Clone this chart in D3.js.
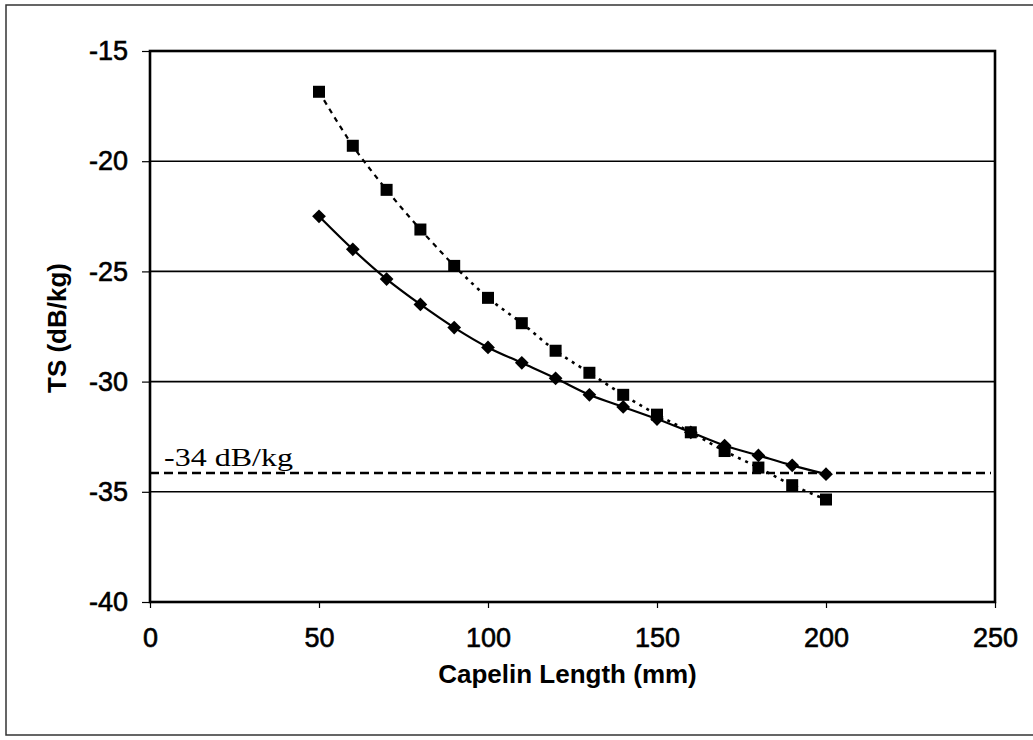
<!DOCTYPE html>
<html>
<head>
<meta charset="utf-8">
<script src="https://cdn.jsdelivr.net/npm/d3@7"></script>
<style>
  body { margin: 0; background: #fff; }
  svg { display: block; }
</style>
</head>
<body>
<div id="chart"></div>
<script>
// data
const lengths = [50, 60, 70, 80, 90, 100, 110, 120, 130, 140, 150, 160, 170, 180, 190, 200];
const tsDiamond = [-22.5, -24.0, -25.35, -26.5, -27.55, -28.45, -29.15, -29.85, -30.6, -31.15, -31.7, -32.3, -32.9, -33.35, -33.8, -34.2];
const tsSquare = [-16.85, -19.3, -21.3, -23.1, -24.75, -26.2, -27.35, -28.6, -29.6, -30.6, -31.5, -32.3, -33.15, -33.9, -34.7, -35.35];
const thresholdTS = -34.15;
const thresholdLabel = "-34 dB/kg";
const xTicks = [0, 50, 100, 150, 200, 250];
const yTicks = [-40, -35, -30, -25, -20, -15];

const MARGIN = { TOP: 51, BOTTOM: 138, LEFT: 150, RIGHT: 38 };
const WIDTH = 1033 - MARGIN.LEFT - MARGIN.RIGHT;
const HEIGHT = 740 - MARGIN.TOP - MARGIN.BOTTOM;

const svg = d3.select("#chart")
  .append("svg")
    .attr("width", 1033)
    .attr("height", 740);

// scanned page frame
svg.append("path")
  .attr("d", "M1033,5 L6,5 L6,735 L1033,735")
  .attr("fill", "none")
  .attr("stroke", "#333")
  .attr("stroke-width", 1.5);

const g = svg.append("g")
  .attr("transform", `translate(${MARGIN.LEFT}, ${MARGIN.TOP})`);

const x = d3.scaleLinear().domain([0, 250]).range([0, WIDTH]);
const y = d3.scaleLinear().domain([-40, -15]).range([HEIGHT, 0]);

// horizontal gridlines
g.selectAll(".grid")
  .data(yTicks.filter(d => d > -40 && d < -15))
  .enter().append("line")
    .attr("x1", 0)
    .attr("x2", WIDTH)
    .attr("y1", d => y(d))
    .attr("y2", d => y(d))
    .attr("stroke", "#000")
    .attr("stroke-width", 1.6);

// plot box
g.append("rect")
  .attr("width", WIDTH)
  .attr("height", HEIGHT)
  .attr("fill", "none")
  .attr("stroke", "#000")
  .attr("stroke-width", 2.6);

// axes - plain hyphen for negatives, like the original
const xAxisCall = d3.axisBottom(x).tickValues(xTicks).tickFormat(d => String(d)).tickSize(6).tickPadding(20);
const yAxisCall = d3.axisLeft(y).tickValues(yTicks).tickFormat(d => String(d)).tickSize(8).tickPadding(14);

const xAxisGroup = g.append("g")
  .attr("transform", `translate(0, ${HEIGHT})`)
  .call(xAxisCall);
const yAxisGroup = g.append("g").call(yAxisCall);

[xAxisGroup, yAxisGroup].forEach(ax => {
  ax.select(".domain").remove();
  ax.selectAll("line").attr("stroke", "#000").attr("stroke-width", 1.2);
  ax.selectAll("text")
    .attr("fill", "#000")
    .attr("stroke", "#000")
    .attr("stroke-width", 0.6)
    .attr("font-family", "'Liberation Sans', Arial, sans-serif")
    .attr("font-size", 27);
});

// axis labels
g.append("text")
  .attr("x", x(125) - 5)
  .attr("y", HEIGHT + 81)
  .attr("font-family", "'Liberation Sans', Arial, sans-serif")
  .attr("font-size", 26)
  .attr("font-weight", "bold")
  .attr("text-anchor", "middle")
  .text("Capelin Length (mm)");

g.append("text")
  .attr("x", -(328 - MARGIN.TOP))
  .attr("y", -84)
  .attr("transform", "rotate(-90)")
  .attr("font-family", "'Liberation Sans', Arial, sans-serif")
  .attr("font-size", 26)
  .attr("font-weight", "bold")
  .attr("text-anchor", "middle")
  .text("TS (dB/kg)");

// threshold line and label
g.append("line")
  .attr("x1", 0)
  .attr("x2", WIDTH - 4)
  .attr("y1", y(thresholdTS))
  .attr("y2", y(thresholdTS))
  .attr("stroke", "#000")
  .attr("stroke-width", 2.6)
  .attr("stroke-dasharray", "9,5");

g.append("text")
  .attr("x", 14)
  .attr("y", y(thresholdTS) - 7)
  .attr("font-family", "'Liberation Serif', 'Times New Roman', serif")
  .attr("font-size", 26)
  .attr("textLength", 129)
  .attr("lengthAdjust", "spacingAndGlyphs")
  .text(thresholdLabel);

const diamondData = lengths.map((d, i) => ({ len: d, ts: tsDiamond[i] }));
const squareData = lengths.map((d, i) => ({ len: d, ts: tsSquare[i] }));

const line = d3.line()
  .x(d => x(d.len))
  .y(d => y(d.ts))
  .curve(d3.curveCatmullRom);

// square series: dashed at the top, dotted further down
g.append("path")
  .datum(squareData.filter(d => d.len <= 90))
  .attr("d", line)
  .attr("fill", "none")
  .attr("stroke", "#000")
  .attr("stroke-width", 2.2)
  .attr("stroke-dasharray", "5,5");

g.append("path")
  .datum(squareData.filter(d => d.len >= 90))
  .attr("d", line)
  .attr("fill", "none")
  .attr("stroke", "#000")
  .attr("stroke-width", 2.6)
  .attr("stroke-dasharray", "3,5");

// diamond series: solid
g.append("path")
  .datum(diamondData)
  .attr("d", line)
  .attr("fill", "none")
  .attr("stroke", "#000")
  .attr("stroke-width", 2.2);

g.selectAll(".sq")
  .data(squareData)
  .enter().append("rect")
    .attr("x", d => x(d.len) - 6)
    .attr("y", d => y(d.ts) - 6)
    .attr("width", 12)
    .attr("height", 12)
    .attr("fill", "#000");

g.selectAll(".dm")
  .data(diamondData)
  .enter().append("path")
    .attr("d", d3.symbol().type(d3.symbolDiamond2).size(120))
    .attr("transform", d => `translate(${x(d.len)}, ${y(d.ts)})`)
    .attr("fill", "#000");
</script>
</body>
</html>
